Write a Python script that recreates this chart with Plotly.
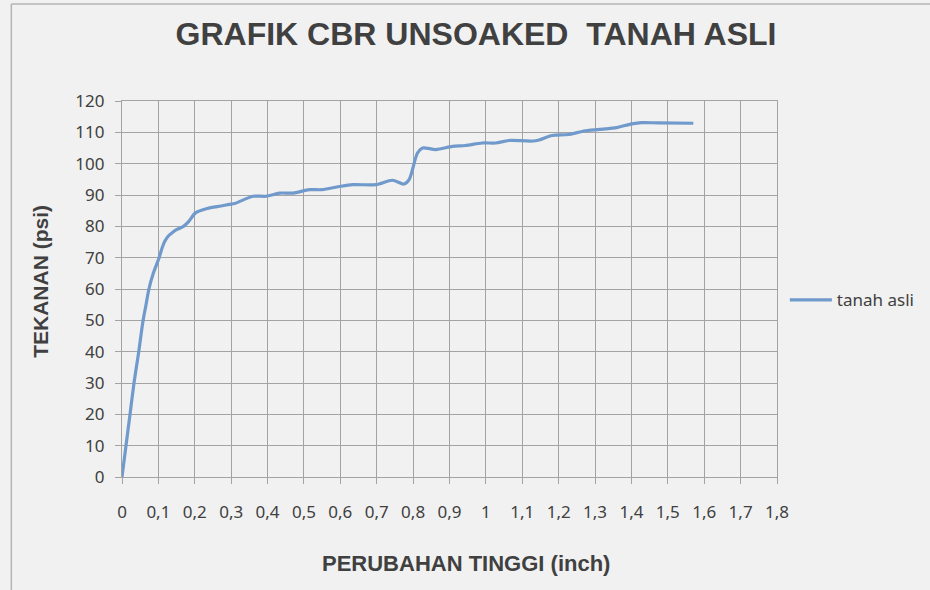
import plotly.graph_objects as go

# Data
penetration_inch = [0, 0.011, 0.022, 0.033, 0.046, 0.058, 0.066, 0.074, 0.086, 0.102, 0.110,
                    0.118, 0.128, 0.137, 0.151, 0.169,
                    0.183, 0.202, 0.234, 0.272, 0.295, 0.310, 0.360, 0.396, 0.433, 0.470,
                    0.515, 0.550, 0.597, 0.634, 0.698, 0.743, 0.775, 0.789, 0.812, 0.826,
                    0.862, 0.908, 0.944, 0.990, 1.027, 1.063, 1.136, 1.182, 1.227, 1.273,
                    1.328, 1.355, 1.401, 1.428, 1.474, 1.570]
pressure_psi = [0, 10, 20, 30, 40, 50, 55, 60, 65, 70, 73,
                75.3, 77, 77.9, 79, 80,
                81.5, 84.3, 85.7, 86.5, 87, 87.3, 89.6, 89.6, 90.6, 90.6,
                91.7, 91.7, 92.7, 93.3, 93.3, 94.7, 93.5, 94.9, 103.4, 105,
                104.5, 105.5, 105.8, 106.6, 106.6, 107.4, 107.3, 109, 109.3, 110.5,
                111.1, 111.4, 112.7, 113.1, 113, 112.9]
series_name = "tanah asli"
title_text = "GRAFIK CBR UNSOAKED&nbsp; TANAH ASLI"
x_title = "PERUBAHAN TINGGI (inch)"
y_title = "TEKANAN (psi)"

grid = "#a3a3a3"
text_col = "#404040"
bold_font = "Liberation Sans, Arial, sans-serif"
tick_font = "Noto Sans, sans-serif"

fig = go.Figure()
fig.add_trace(go.Scatter(
    x=penetration_inch, y=pressure_psi, mode="lines", name=series_name,
    line=dict(color="#7099cc", width=3.2, shape="spline", smoothing=0.8),
))

fig.update_layout(
    width=930, height=590,
    margin=dict(l=122, r=153, t=101, b=113, autoexpand=False),
    paper_bgcolor="#f1f1f1", plot_bgcolor="#f1f1f1",
    separators=",.",
    font=dict(family=bold_font, color=text_col),
    title=dict(text="<b>" + title_text + "</b>", x=476 / 930, xanchor="center",
               y=1 - 34 / 590, yanchor="middle",
               font=dict(size=32, color=text_col, family=bold_font)),
    showlegend=True,
    legend=dict(x=1.012, y=0.47, xanchor="left", yanchor="middle", itemwidth=42,
                bgcolor="rgba(0,0,0,0)",
                font=dict(size=17, color=text_col, family=tick_font)),
    xaxis=dict(range=[0, 1.8], dtick=0.1, tick0=0, showgrid=True, gridcolor=grid, gridwidth=1.2,
               showline=True, linecolor=grid, linewidth=1.2, mirror=True,
               ticks="outside", ticklen=6, tickcolor=grid, zeroline=False,
               ticklabelstandoff=13,
               tickfont=dict(size=17, family=tick_font, color=text_col)),
    yaxis=dict(range=[0, 120], dtick=10, tick0=0, showgrid=True, gridcolor=grid, gridwidth=1.2,
               showline=True, linecolor=grid, linewidth=1.2, mirror=True,
               ticks="outside", ticklen=6, tickcolor=grid, zeroline=False,
               ticklabelstandoff=7,
               tickfont=dict(size=17, family=tick_font, color=text_col)),
    annotations=[
        dict(text="<b>" + x_title + "</b>", xref="paper", yref="paper", x=0.525, y=0,
             xanchor="center", yanchor="middle", yshift=-86, showarrow=False,
             font=dict(size=22, family=bold_font, color=text_col)),
        dict(text="<b>" + y_title + "</b>", xref="paper", yref="paper", x=0, y=0.519,
             xanchor="center", yanchor="middle", xshift=-81, textangle=-90, showarrow=False,
             font=dict(size=21, family=bold_font, color=text_col)),
    ],
)

# outer chart border (left and top edges visible)
fig.add_shape(type="line", xref="paper", yref="paper", x0=-0.169, x1=-0.169, y0=-0.4, y1=1.258,
              line=dict(color="#b5b5b5", width=1.5))
fig.add_shape(type="line", xref="paper", yref="paper", x0=-0.169, x1=1.5, y0=1.258, y1=1.258,
              line=dict(color="#b5b5b5", width=1.5))

fig.write_html("out.html", config={"displayModeBar": False},
               post_script="document.body.style.margin='0';document.body.style.overflow='hidden';")
